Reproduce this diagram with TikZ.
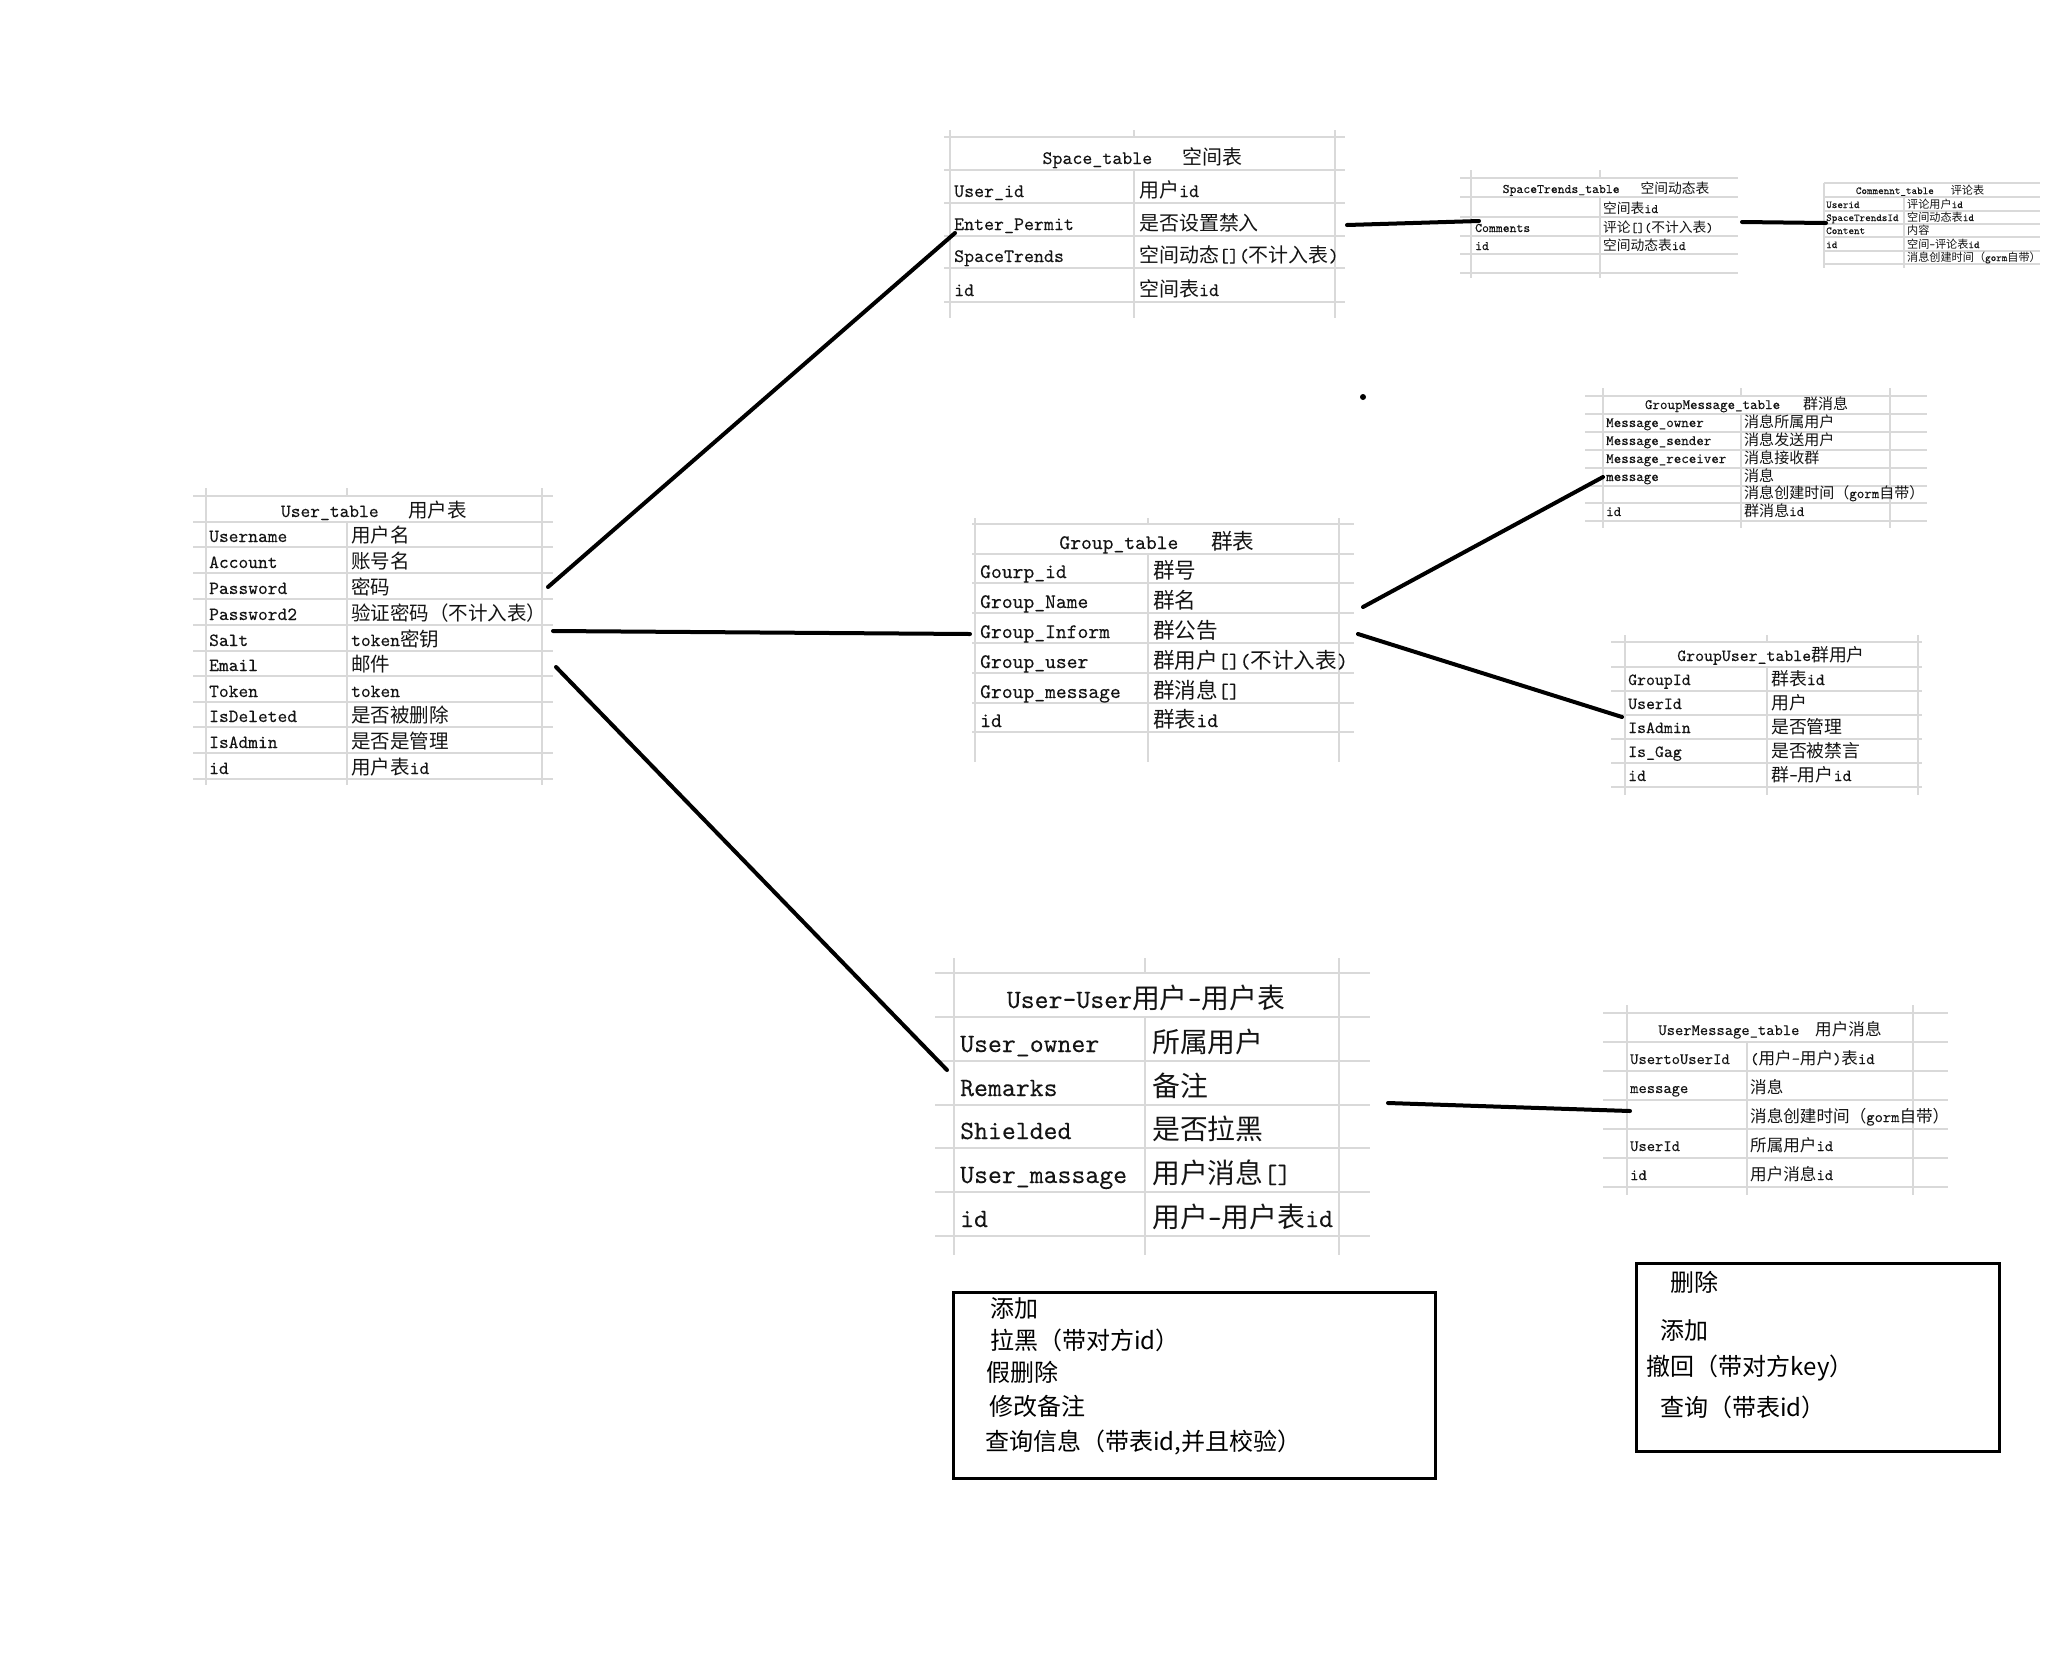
\documentclass[tikz,border=0pt]{standalone}
\usepackage{fontspec}
\setmonofont{lmmono10-regular.otf}[FakeBold=0.1]
\newfontfamily\cjk[Scale=1.05]{Noto Sans CJK SC}
\newfontfamily\cjkb{Noto Sans CJK SC}
% automatic switch to the CJK font for Chinese characters
\chardef\zhcls=10
\newcount\zhcnt
\newcommand\setcls[3]{\zhcnt=#1\relax\loop\XeTeXcharclass\zhcnt=#3\relax\ifnum\zhcnt<#2\relax\advance\zhcnt by 1\relax\repeat}
\setcls{"0020}{"007E}{0}
\setcls{"3000}{"303F}{\zhcls}
\setcls{"4E00}{"9FFF}{\zhcls}
\setcls{"FF00}{"FFEF}{\zhcls}
\XeTeXinterchartoks 0 \zhcls={\cjk}
\XeTeXinterchartoks 4095 \zhcls={\cjk}
\XeTeXinterchartoks \zhcls 0={\ttfamily}
\XeTeXinterchartokenstate=1
\newcommand\tf[1]{\ttfamily\fontsize{#1}{#1}\selectfont}
\newcommand\boxfont{\XeTeXinterchartokenstate=0 \cjkb\fontsize{24}{24}\selectfont}
\newcommand\hg{\hspace{1.6em}}
\tikzset{
  grid/.style={draw=black!15, line width=1.3pt},
  hdr/.style={anchor=base, inner sep=0pt, text=black!92},
  fld/.style={anchor=base west, inner sep=0pt, text=black!92},
  link/.style={line width=4pt, line cap=round},
  opbox/.style={draw, line width=2.8pt, anchor=north west, inner sep=0pt},
  boxtxt/.style={anchor=base west, inner sep=0pt, font=\boxfont}
}
\begin{document}
\begin{tikzpicture}[x=1pt,y=-1pt]
\fill[white] (0,0) rectangle (2051,1666);
\path[use as bounding box] (0,0) rectangle (2051,1666);

% ---------- User_table ----------
\foreach \y in {496,522,547,573,599,625,651,676,702,727,753,779} \draw[grid] (193,\y) -- (553,\y);
\draw[grid] (206,488) -- (206,785) (542,488) -- (542,785) (347,488) -- (347,496) (347,522) -- (347,785);
\begin{scope}[font=\tf{18.6}]
\node[hdr] (u-h) at (374,517) {User\_table\hg 用户表};
\node[fld] (u-1) at (209,542) {Username};   \node[fld] (u-1d) at (351,542) {用户名};
\node[fld] (u-2) at (209,568) {Account};    \node[fld] (u-2d) at (351,568) {账号名};
\node[fld] (u-3) at (209,594) {Password};   \node[fld] (u-3d) at (351,594) {密码};
\node[fld] (u-4) at (209,620) {Password2};  \node[fld] (u-4d) at (351,620) {验证密码（不计入表）};
\node[fld] (u-5) at (209,646) {Salt};       \node[fld] (u-5d) at (351,646) {token密钥};
\node[fld] (u-6) at (209,671) {Email};      \node[fld] (u-6d) at (351,671) {邮件};
\node[fld] (u-7) at (209,697) {Token};      \node[fld] (u-7d) at (351,697) {token};
\node[fld] (u-8) at (209,722) {IsDeleted};  \node[fld] (u-8d) at (351,722) {是否被删除};
\node[fld] (u-9) at (209,748) {IsAdmin};    \node[fld] (u-9d) at (351,748) {是否是管理};
\node[fld] (u-10) at (209,774) {id};        \node[fld] (u-10d) at (351,774) {用户表id};
\end{scope}

% ---------- Space_table ----------
\foreach \y in {137,170,203,236,268,302} \draw[grid] (944,\y) -- (1345,\y);
\draw[grid] (950,130) -- (950,318) (1335,130) -- (1335,318) (1134,130) -- (1134,137) (1134,170) -- (1134,318);
\begin{scope}[font=\tf{19}]
\node[hdr] (s-h) at (1142.5,164) {Space\_table\hg 空间表};
\node[fld] (s-1) at (954,197) {User\_id};      \node[fld] (s-1d) at (1139,197) {用户id};
\node[fld] (s-2) at (954,230) {Enter\_Permit}; \node[fld] (s-2d) at (1139,230) {是否设置禁入};
\node[fld] (s-3) at (954,262) {SpaceTrends};   \node[fld] (s-3d) at (1139,262) {空间动态[](不计入表)};
\node[fld] (s-4) at (954,296) {id};            \node[fld] (s-4d) at (1139,296) {空间表id};
\end{scope}

% ---------- SpaceTrends_table ----------
\foreach \y in {178,197,217,236,254,273} \draw[grid] (1460,\y) -- (1738,\y);
\draw[grid] (1471,170) -- (1471,278) (1600,170) -- (1600,178) (1600,197) -- (1600,278);
\begin{scope}[font=\tf{13.1}]
\node[hdr] (st-h) at (1606,193) {SpaceTrends\_table\hg 空间动态表};
\node[fld] (st-1d) at (1603,213) {空间表id};
\node[fld] (st-2) at (1475,232) {Comments}; \node[fld] (st-2d) at (1603,232) {评论[](不计入表)};
\node[fld] (st-3) at (1475,250) {id};       \node[fld] (st-3d) at (1603,250) {空间动态表id};
\end{scope}

% ---------- Commennt_table ----------
\foreach \y in {183,197,211,224,237,251,264} \draw[grid] (1824,\y) -- (2040,\y);
\draw[grid] (1824,183) -- (1824,268) (1904,197) -- (1904,268);
\begin{scope}[font=\tf{10.6}]
\node[hdr] (c-h) at (1920,194) {Commennt\_table\hg 评论表};
\node[fld] (c-1) at (1826,208) {Userid};        \node[fld] (c-1d) at (1907,208) {评论用户id};
\node[fld] (c-2) at (1826,221) {SpaceTrendsId}; \node[fld] (c-2d) at (1907,221) {空间动态表id};
\node[fld] (c-3) at (1826,234) {Content};       \node[fld] (c-3d) at (1907,234) {内容};
\node[fld] (c-4) at (1826,248) {id};            \node[fld] (c-4d) at (1907,248) {空间-评论表id};
\node[fld] (c-5d) at (1907,261) {消息创建时间（gorm自带）};
\end{scope}

% ---------- Group_table ----------
\foreach \y in {524,554,583,613,643,673,703,732} \draw[grid] (972,\y) -- (1354,\y);
\draw[grid] (975,518) -- (975,762) (1339,518) -- (1339,762) (1148,518) -- (1148,524) (1148,554) -- (1148,762);
\begin{scope}[font=\tf{20.6}]
\node[hdr] (g-h) at (1157,549) {Group\_table\hg 群表};
\node[fld] (g-1) at (980,578) {Gourp\_id};      \node[fld] (g-1d) at (1153,578) {群号};
\node[fld] (g-2) at (980,608) {Group\_Name};    \node[fld] (g-2d) at (1153,608) {群名};
\node[fld] (g-3) at (980,638) {Group\_Inform};  \node[fld] (g-3d) at (1153,638) {群公告};
\node[fld] (g-4) at (980,668) {Group\_user};    \node[fld] (g-4d) at (1153,668) {群用户[](不计入表)};
\node[fld] (g-5) at (980,698) {Group\_message}; \node[fld] (g-5d) at (1153,698) {群消息[]};
\node[fld] (g-6) at (980,727) {id};             \node[fld] (g-6d) at (1153,727) {群表id};
\end{scope}

% ---------- GroupMessage_table ----------
\foreach \y in {396,414,432,450,468,486,503,521} \draw[grid] (1585,\y) -- (1927,\y);
\draw[grid] (1603,388) -- (1603,528) (1890,388) -- (1890,528) (1741,388) -- (1741,396) (1741,414) -- (1741,528);
\begin{scope}[font=\tf{14.3}]
\node[hdr] (gm-h) at (1746.5,409) {GroupMessage\_table\hg 群消息};
\node[fld] (gm-1) at (1606,427) {Message\_owner};    \node[fld] (gm-1d) at (1744,427) {消息所属用户};
\node[fld] (gm-2) at (1606,445) {Message\_sender};   \node[fld] (gm-2d) at (1744,445) {消息发送用户};
\node[fld] (gm-3) at (1606,463) {Message\_receiver}; \node[fld] (gm-3d) at (1744,463) {消息接收群};
\node[fld] (gm-4) at (1606,481) {message};           \node[fld] (gm-4d) at (1744,481) {消息};
\node[fld] (gm-5d) at (1744,498) {消息创建时间（gorm自带）};
\node[fld] (gm-6) at (1606,516) {id};                \node[fld] (gm-6d) at (1744,516) {群消息id};
\end{scope}

% ---------- GroupUser_table ----------
\foreach \y in {642,667,691,715,739,763,787} \draw[grid] (1611,\y) -- (1922,\y);
\draw[grid] (1625,635) -- (1625,795) (1918,635) -- (1918,795) (1767,635) -- (1767,642) (1767,667) -- (1767,795);
\begin{scope}[font=\tf{17}]
\node[hdr] (gu-h) at (1771,661) {GroupUser\_table群用户};
\node[fld] (gu-1) at (1628,685) {GroupId}; \node[fld] (gu-1d) at (1771,685) {群表id};
\node[fld] (gu-2) at (1628,709) {UserId};  \node[fld] (gu-2d) at (1771,709) {用户};
\node[fld] (gu-3) at (1628,733) {IsAdmin}; \node[fld] (gu-3d) at (1771,733) {是否管理};
\node[fld] (gu-4) at (1628,757) {Is\_Gag}; \node[fld] (gu-4d) at (1771,757) {是否被禁言};
\node[fld] (gu-5) at (1628,781) {id};      \node[fld] (gu-5d) at (1771,781) {群-用户id};
\end{scope}

% ---------- User-User table ----------
\foreach \y in {973,1017,1061,1105,1148,1192,1236} \draw[grid] (935,\y) -- (1370,\y);
\draw[grid] (954,958) -- (954,1255) (1339,958) -- (1339,1255) (1145,958) -- (1145,973) (1145,1017) -- (1145,1255);
\begin{scope}[font=\tf{26.5}]
\node[hdr] (uu-h) at (1146,1008) {User-User用户-用户表};
\node[fld] (uu-1) at (960,1052) {User\_owner};   \node[fld] (uu-1d) at (1152,1052) {所属用户};
\node[fld] (uu-2) at (960,1096) {Remarks};       \node[fld] (uu-2d) at (1152,1096) {备注};
\node[fld] (uu-3) at (960,1139) {Shielded};      \node[fld] (uu-3d) at (1152,1139) {是否拉黑};
\node[fld] (uu-4) at (960,1183) {User\_massage}; \node[fld] (uu-4d) at (1152,1183) {用户消息[]};
\node[fld] (uu-5) at (960,1227) {id};            \node[fld] (uu-5d) at (1152,1227) {用户-用户表id};
\end{scope}

% ---------- UserMessage_table ----------
\foreach \y in {1013,1042,1071,1100,1129,1158,1187} \draw[grid] (1603,\y) -- (1948,\y);
\draw[grid] (1627,1005) -- (1627,1195) (1913,1005) -- (1913,1195) (1747,1042) -- (1747,1195);
\begin{scope}[font=\tf{15.8}]
\node[hdr] (um-h) at (1770,1035) {UserMessage\_table\hspace{1em}用户消息};
\node[fld] (um-1) at (1630,1064) {UsertoUserId}; \node[fld] (um-1d) at (1750,1064) {(用户-用户)表id};
\node[fld] (um-2) at (1630,1093) {message};      \node[fld] (um-2d) at (1750,1093) {消息};
\node[fld] (um-3d) at (1750,1122) {消息创建时间（gorm自带）};
\node[fld] (um-4) at (1630,1151) {UserId};       \node[fld] (um-4d) at (1750,1151) {所属用户id};
\node[fld] (um-5) at (1630,1180) {id};           \node[fld] (um-5d) at (1750,1180) {用户消息id};
\end{scope}

% ---------- connectors ----------
\coordinate (l1a) at (548,587);   \coordinate (l1b) at (955,233);
\coordinate (l2a) at (553,631);   \coordinate (l2b) at (970,634);
\coordinate (l3a) at (556,667);   \coordinate (l3b) at (947,1070);
\coordinate (l4a) at (1347,225);  \coordinate (l4b) at (1479,221);
\coordinate (l5a) at (1742,222);  \coordinate (l5b) at (1826,223);
\coordinate (l6a) at (1363,607);  \coordinate (l6b) at (1603,477);
\coordinate (l7a) at (1358,634);  \coordinate (l7b) at (1622,717);
\coordinate (l8a) at (1388,1103); \coordinate (l8b) at (1630,1111);
\draw[link] (l1a) -- (l1b);
\draw[link] (l2a) -- (l2b);
\draw[link] (l3a) -- (l3b);
\draw[link] (l4a) -- (l4b);
\draw[link] (l5a) -- (l5b);
\draw[link] (l6a) -- (l6b);
\draw[link] (l7a) -- (l7b);
\draw[link] (l8a) -- (l8b);
\fill (1363,397) circle[radius=3pt];

% ---------- operation boxes ----------
\node[opbox, minimum width=482.6pt, minimum height=186pt] (b1) at (951.7,1290.7) {};
\node[boxtxt] (b1-1) at (990.7,1317) {添加};
\node[boxtxt] (b1-2) at (990,1349) {拉黑（带对方id）};
\node[boxtxt] (b1-3) at (986.7,1381) {假删除};
\node[boxtxt] (b1-4) at (989.3,1415) {修改备注};
\node[boxtxt] (b1-5) at (985,1450) {查询信息（带表id,并且校验）};

\node[opbox, minimum width=363.3pt, minimum height=188.3pt] (b2) at (1635,1261.7) {};
\node[boxtxt] (b2-1) at (1670,1291) {删除};
\node[boxtxt] (b2-2) at (1660.7,1339) {添加};
\node[boxtxt] (b2-3) at (1646.7,1375) {撤回（带对方key）};
\node[boxtxt] (b2-4) at (1660,1416) {查询（带表id）};
\end{tikzpicture}
\end{document}
